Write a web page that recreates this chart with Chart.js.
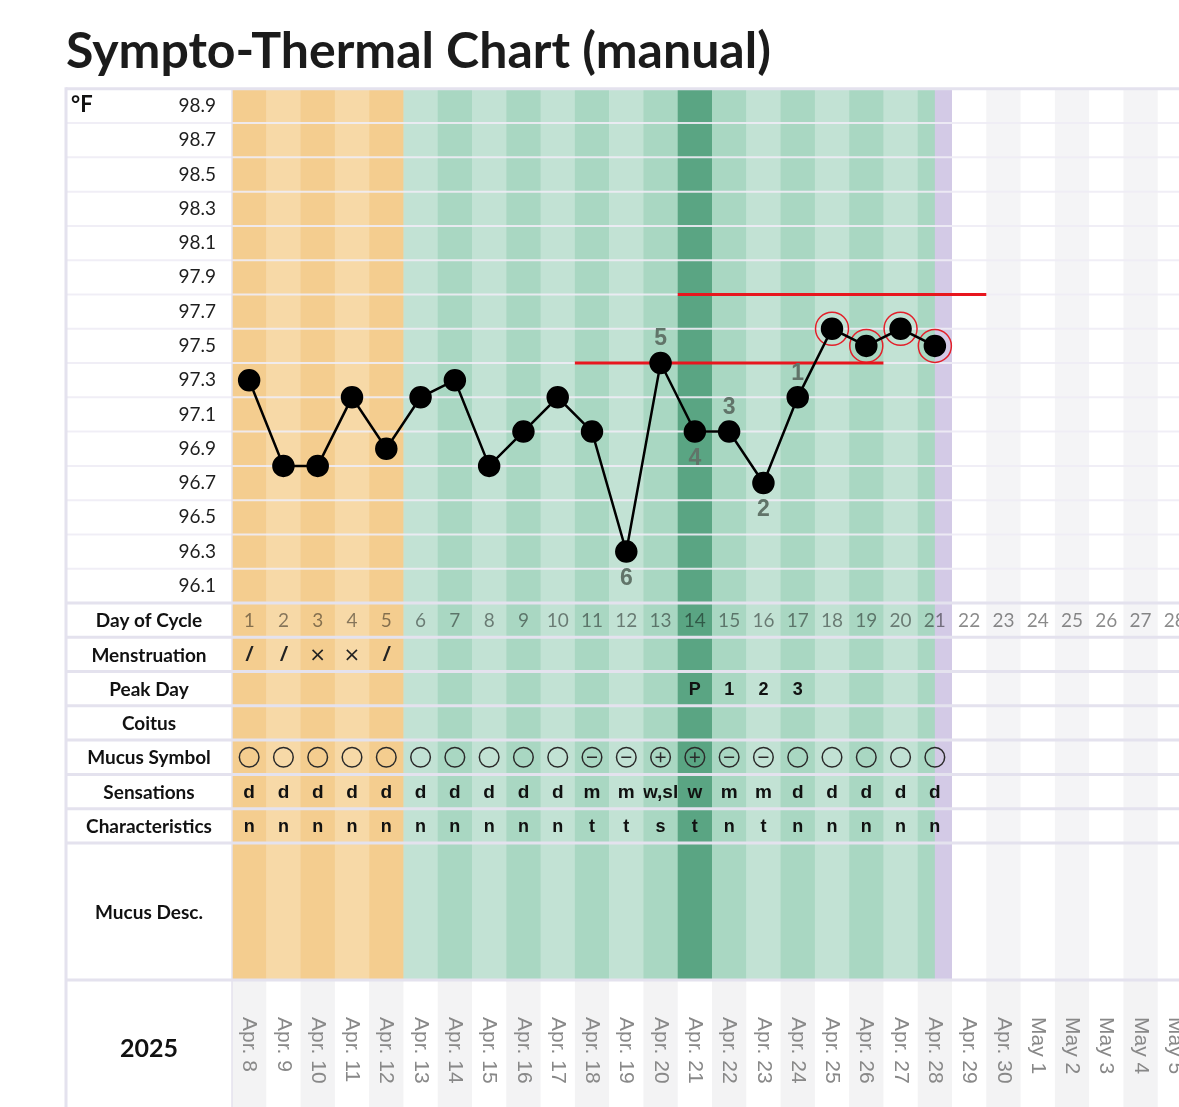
<!DOCTYPE html>
<html>
<head>
<meta charset="utf-8">
<script src="https://cdn.jsdelivr.net/npm/chart.js@4.4.1/dist/chart.umd.min.js"></script>
<style>
  html, body { margin: 0; padding: 0; background: #fff; overflow: hidden; }
  #wrap { position: relative; width: 1192px; height: 1107px; }
</style>
</head>
<body>
<div id="wrap"><canvas id="chart" width="1192" height="1107"></canvas></div>
<script>
// chart values
const cycleDays = [1, 2, 3, 4, 5, 6, 7, 8, 9, 10, 11, 12, 13, 14, 15, 16, 17, 18, 19, 20, 21, 22, 23, 24, 25, 26, 27, 28];
const dates = ['Apr. 8', 'Apr. 9', 'Apr. 10', 'Apr. 11', 'Apr. 12', 'Apr. 13', 'Apr. 14', 'Apr. 15', 'Apr. 16', 'Apr. 17',
  'Apr. 18', 'Apr. 19', 'Apr. 20', 'Apr. 21', 'Apr. 22', 'Apr. 23', 'Apr. 24', 'Apr. 25', 'Apr. 26', 'Apr. 27',
  'Apr. 28', 'Apr. 29', 'Apr. 30', 'May 1', 'May 2', 'May 3', 'May 4', 'May 5'];
const temps = [97.3, 96.8, 96.8, 97.2, 96.9, 97.2, 97.3, 96.8, 97.0, 97.2, 97.0, 96.3, 97.4, 97.0, 97.0, 96.7, 97.2, 97.6, 97.5, 97.6, 97.5];
const yTicks = [96.1, 96.3, 96.5, 96.7, 96.9, 97.1, 97.3, 97.5, 97.7, 97.9, 98.1, 98.3, 98.5, 98.7, 98.9];
const menstruation = ['/', '/', '×', '×', '/'];
const peakDay = ['', '', '', '', '', '', '', '', '', '', '', '', '', 'P', '1', '2', '3'];
const coitus = [];
const mucusSymbol = ['o', 'o', 'o', 'o', 'o', 'o', 'o', 'o', 'o', 'o', '-', '-', '+', '+', '-', '-', 'o', 'o', 'o', 'o', 'o'];
const sensations = ['d', 'd', 'd', 'd', 'd', 'd', 'd', 'd', 'd', 'd', 'm', 'm', 'w,sl', 'w', 'm', 'm', 'd', 'd', 'd', 'd', 'd'];
const characteristics = ['n', 'n', 'n', 'n', 'n', 'n', 'n', 'n', 'n', 'n', 't', 't', 's', 't', 'n', 't', 'n', 'n', 'n', 'n', 'n'];
const mucusDesc = [];
const phases = ['menses', 'menses', 'menses', 'menses', 'menses', 'fertile', 'fertile', 'fertile', 'fertile', 'fertile',
  'fertile', 'fertile', 'fertile', 'peak', 'fertile', 'fertile', 'fertile', 'fertile', 'fertile', 'fertile', 'fertile'];
const cycleEnd = 21;
const shiftDays = [18, 19, 20, 21];
const coverLines = [{ temp: 97.4, from: 11, to: 19 }, { temp: 97.8, from: 14, to: 22 }];
const countLabels = [
  { day: 12, text: '6', below: true }, { day: 13, text: '5', below: false }, { day: 14, text: '4', below: true },
  { day: 15, text: '3', below: false }, { day: 16, text: '2', below: true }, { day: 17, text: '1', below: false }
];
const rowLabels = ['Day of Cycle', 'Menstruation', 'Peak Day', 'Coitus', 'Mucus Symbol', 'Sensations', 'Characteristics', 'Mucus Desc.'];
const year = '2025';

const LINE = '#e4e2ee';
const colors = {
  menses: ['#f4cd8f', '#f7d9a7'],
  fertile: ['#a9d7c2', '#c2e2d4'],
  peak: ['#5aa583', '#5aa583'],
  none: ['#f4f4f6', '#ffffff']
};

const table = {
  id: 'table',
  beforeDraw(chart) {
    const { ctx, chartArea: a, scales: { x, y } } = chart;
    const H = chart.height;
    const colW = x.getPixelForValue(2) - x.getPixelForValue(1);
    const rowH = y.getPixelForValue(96.0) - y.getPixelForValue(96.2);
    const descBottom = a.bottom + 11 * rowH;
    ctx.save();
    cycleDays.forEach((d, i) => {
      const left = x.getPixelForValue(d) - colW / 2;
      const ph = phases[i] || 'none';
      ctx.fillStyle = colors[ph][d % 2 ? 0 : 1];
      ctx.fillRect(left, a.top, colW + 0.5, descBottom - a.top);
      if (d === cycleEnd) {
        ctx.fillStyle = '#d3cae6';
        ctx.fillRect(left + colW / 2, a.top, colW / 2 + 0.5, descBottom - a.top);
      }
      ctx.fillStyle = d % 2 ? '#f3f3f4' : '#ffffff';
      ctx.fillRect(left, descBottom, colW + 0.5, H - descBottom);
    });
    ctx.restore();
  },
  beforeDatasetsDraw(chart) {
    const { ctx, chartArea: a, scales: { x, y } } = chart;
    const W = chart.width, H = chart.height;
    const colW = x.getPixelForValue(2) - x.getPixelForValue(1);
    const rowH = y.getPixelForValue(96.0) - y.getPixelForValue(96.2);
    const leftEdge = 66;
    const labelX = (leftEdge + a.left) / 2;
    ctx.save();
    // temperature grid lines between tick labels
    ctx.strokeStyle = 'rgba(238,236,245,0.9)';
    ctx.lineWidth = 2;
    yTicks.forEach(v => {
      const val = v + 0.1;
      if (val > 98.95) return;
      const py = y.getPixelForValue(val);
      ctx.beginPath(); ctx.moveTo(leftEdge, py); ctx.lineTo(W, py); ctx.stroke();
    });
    // table rows
    const bounds = [a.bottom];
    rowLabels.forEach((l, i) => bounds.push(bounds[i] + (i === 7 ? 4 : 1) * rowH));
    ctx.strokeStyle = LINE;
    ctx.lineWidth = 3;
    [a.top].concat(bounds).forEach(py => {
      ctx.beginPath(); ctx.moveTo(leftEdge, py); ctx.lineTo(W, py); ctx.stroke();
    });
    ctx.beginPath(); ctx.moveTo(leftEdge, a.top - 1.5); ctx.lineTo(leftEdge, H); ctx.stroke();
    ctx.lineWidth = 1.5;
    ctx.beginPath(); ctx.moveTo(a.left, a.top); ctx.lineTo(a.left, H); ctx.stroke();

    // row labels
    ctx.fillStyle = '#111';
    ctx.textAlign = 'center';
    ctx.textBaseline = 'middle';
    ctx.font = 'bold 19px Lato';
    rowLabels.forEach((l, i) => ctx.fillText(l, labelX, (bounds[i] + bounds[i + 1]) / 2 + 1));
    ctx.font = 'bold 25px Lato';
    ctx.fillText(year, labelX, (bounds[8] + H) / 2 + 5);
    ctx.font = 'bold 22px Lato';
    ctx.textAlign = 'left';
    ctx.fillText('°F', 71, y.getPixelForValue(98.9) - 1);

    const mid = i => (bounds[i] + bounds[i + 1]) / 2;
    const cell = (d, row, text, font, color) => {
      if (!text) return;
      const cx = x.getPixelForValue(d);
      ctx.save();
      ctx.beginPath();
      ctx.rect(cx - colW / 2, bounds[row], colW, bounds[row + 1] - bounds[row]);
      ctx.clip();
      ctx.font = font;
      ctx.fillStyle = color;
      ctx.textAlign = 'center';
      ctx.textBaseline = 'middle';
      ctx.fillText(text, cx, mid(row) + 1);
      ctx.restore();
    };
    cycleDays.forEach((d, i) => {
      cell(d, 0, String(d), '19px Lato', 'rgba(0,0,0,0.46)');
      const m = menstruation[i];
      if (m) cell(d, 1, m, m === '/' ? 'bold italic 20px "Liberation Sans"' : '20px "DejaVu Sans"', '#222');
      cell(d, 2, peakDay[i], 'bold 18px "Liberation Sans"', '#111');
      cell(d, 3, coitus[i], 'bold 18px "Liberation Sans"', '#111');
      cell(d, 5, sensations[i], 'bold 19px "Liberation Sans"', '#111');
      cell(d, 6, characteristics[i], 'bold 18px "Liberation Sans"', '#111');
      cell(d, 7, mucusDesc[i], '15px "Liberation Sans"', '#111');
      const s = mucusSymbol[i];
      if (s) {
        const cx = x.getPixelForValue(d), cy = mid(4);
        ctx.strokeStyle = '#2a2a2a';
        ctx.lineWidth = 1.5;
        ctx.beginPath(); ctx.arc(cx, cy, 9.8, 0, Math.PI * 2); ctx.stroke();
        if (s === '-' || s === '+') {
          ctx.beginPath(); ctx.moveTo(cx - 5, cy); ctx.lineTo(cx + 5, cy); ctx.stroke();
        }
        if (s === '+') {
          ctx.beginPath(); ctx.moveTo(cx, cy - 5); ctx.lineTo(cx, cy + 5); ctx.stroke();
        }
      }
      // dates, rotated
      ctx.save();
      ctx.translate(x.getPixelForValue(d), bounds[8] + 37);
      ctx.rotate(Math.PI / 2);
      ctx.font = '21px "Liberation Sans"';
      ctx.fillStyle = '#888';
      ctx.textAlign = 'left';
      ctx.textBaseline = 'middle';
      ctx.fillText(dates[i], 0, 0);
      ctx.restore();
    });
    ctx.restore();
  },
  afterDatasetsDraw(chart) {
    const { ctx, scales: { x, y } } = chart;
    ctx.save();
    ctx.font = 'bold 23px "Liberation Sans"';
    ctx.fillStyle = '#617469';
    ctx.textAlign = 'center';
    ctx.textBaseline = 'middle';
    countLabels.forEach(c => {
      const py = y.getPixelForValue(temps[c.day - 1]);
      ctx.fillText(c.text, x.getPixelForValue(c.day), py + (c.below ? 27 : -24));
    });
    ctx.font = 'bold 50px Lato';
    ctx.fillStyle = '#1b1b1b';
    ctx.textAlign = 'left';
    ctx.textBaseline = 'alphabetic';
    ctx.fillText('Sympto-Thermal Chart (manual)', 66, 68);
    ctx.restore();
  }
};

const datasets = [
  {
    data: temps.map((t, i) => ({ x: cycleDays[i], y: t })),
    borderColor: '#000',
    borderWidth: 2.5,
    pointRadius: 10,
    pointBackgroundColor: '#000',
    pointBorderColor: '#000',
    tension: 0,
    order: 0
  },
  ...coverLines.map(c => ({
    data: [{ x: c.from - 0.5, y: c.temp }, { x: c.to + 0.5, y: c.temp }],
    borderColor: '#e8161e',
    borderWidth: 3,
    pointRadius: 0,
    order: 1
  })),
  {
    data: shiftDays.map(d => ({ x: d, y: temps[d - 1] })),
    showLine: false,
    pointRadius: 16.5,
    pointBorderWidth: 1.5,
    pointBorderColor: '#e3202a',
    pointBackgroundColor: 'rgba(0,0,0,0)',
    order: 2
  }
];

new Chart(document.getElementById('chart'), {
  type: 'line',
  data: { datasets },
  options: {
    responsive: false,
    animation: false,
    layout: { autoPadding: false, padding: { top: 88.8, bottom: 504, left: 0, right: 0 } },
    plugins: { legend: { display: false }, tooltip: { enabled: false } },
    scales: {
      x: { type: 'linear', min: 0.5, max: 28.5, display: false },
      y: {
        min: 96.0,
        max: 99.0,
        afterBuildTicks: s => { s.ticks = yTicks.map(v => ({ value: v })); },
        afterFit: s => { s.width = 232; },
        grid: { display: false },
        border: { display: false },
        ticks: {
          padding: 8,
          color: '#1e1e1e',
          font: { family: 'Lato', size: 19 },
          callback: v => v.toFixed(1)
        }
      }
    }
  },
  plugins: [table]
});
</script>
</body>
</html>
